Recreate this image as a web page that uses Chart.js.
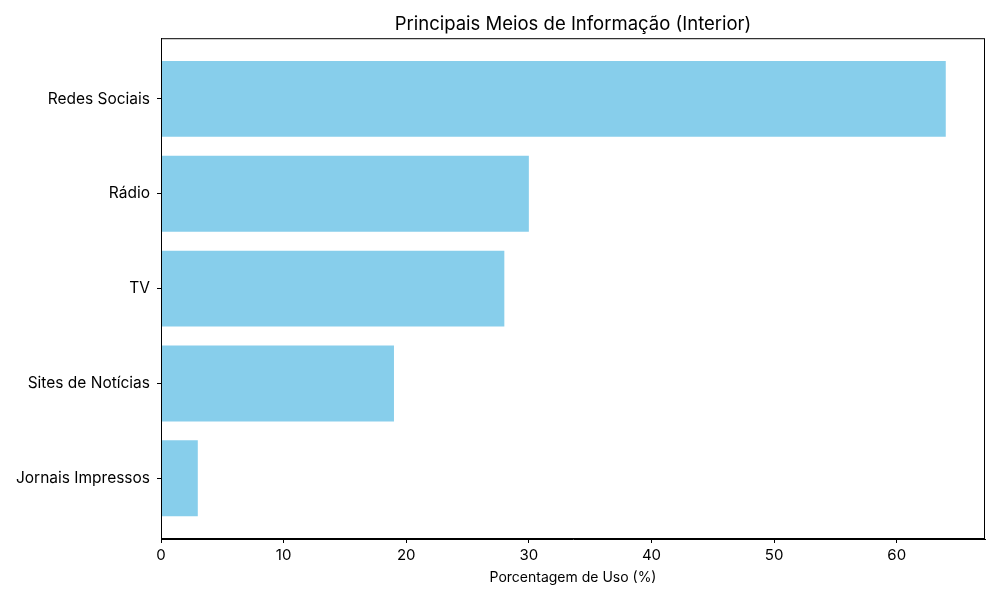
<!DOCTYPE html>
<html lang="pt">
  <head>
    <title>Principais Meios de Informação</title>
    <meta charset="utf-8">
    <script src="https://cdn.jsdelivr.net/npm/chart.js@4/dist/chart.umd.min.js"></script>
    <style>
      body { margin: 0; background: #fff; }
      #wrap { width: 1000px; height: 600px; }
    </style>
  </head>
  <body>
    <div id="wrap"><canvas id="chart_meios"></canvas></div>

    <script>
      // categories top to bottom, with the share of use in percent
      const categories = ["Redes Sociais", "Rádio", "TV", "Sites de Notícias", "Jornais Impressos"];
      const usage = [64, 30, 28, 19, 3];
      const xTicks = [0, 10, 20, 30, 40, 50, 60];

      const FONT = "Inter, 'DejaVu Sans', sans-serif";

      // matplotlib style box round the plot area
      const boxPlugin = {
        id: "box",
        afterDraw(chart) {
          const a = chart.chartArea, ctx = chart.ctx;
          ctx.save();
          ctx.strokeStyle = "#000";
          ctx.lineWidth = 1;
          ctx.strokeRect(a.left + 0.5, a.top + 0.5, a.right - a.left - 1, a.bottom - a.top - 1);
          ctx.restore();
        }
      };

      const chart = new Chart("chart_meios", {
        type: "bar",
        data: {
          datasets: [{
            data: usage.map((v, i) => ({ x: v, y: i })),
            backgroundColor: "#87ceeb",
            barPercentage: 0.8,
            categoryPercentage: 1.0
          }]
        },
        options: {
          indexAxis: "y",
          responsive: true,
          maintainAspectRatio: false,
          animation: false,
          layout: { padding: { left: 0, right: 15, top: 0, bottom: 0 } },
          plugins: {
            legend: { display: false },
            tooltip: { enabled: false },
            title: {
              display: true,
              fullSize: false,
              text: "Principais Meios de Informação (Interior)",
              color: "#000",
              font: { family: FONT, size: 18.5, weight: "normal", lineHeight: 1.2 },
              padding: { top: 13, bottom: 3 }
            }
          },
          scales: {
            x: {
              type: "linear",
              min: 0,
              max: 67.2,
              afterBuildTicks: s => { s.ticks = xTicks.map(v => ({ value: v })); },
              afterFit: s => { s.height = 61; },
              grid: { drawOnChartArea: false, drawTicks: true, tickLength: 4, color: "#000" },
              border: { color: "#000" },
              ticks: { color: "#000", padding: 3, font: { family: FONT, size: 15 } },
              title: {
                display: true,
                text: "Porcentagem de Uso (%)",
                color: "#000",
                font: { family: FONT, size: 14 },
                padding: { top: 4, bottom: 14 }
              }
            },
            y: {
              type: "linear",
              reverse: true,
              offset: false,
              min: -0.64,
              max: 4.64,
              afterBuildTicks: s => { s.ticks = categories.map((c, i) => ({ value: i })); },
              afterFit: s => { s.width = 161; },
              grid: { offset: false, drawOnChartArea: false, drawTicks: true, tickLength: 4, color: "#000" },
              border: { color: "#000" },
              ticks: {
                color: "#000",
                padding: 7,
                font: { family: FONT, size: 15.5 },
                callback: v => categories[v]
              }
            }
          }
        },
        plugins: [boxPlugin]
      });
    </script>
  </body>
</html>
